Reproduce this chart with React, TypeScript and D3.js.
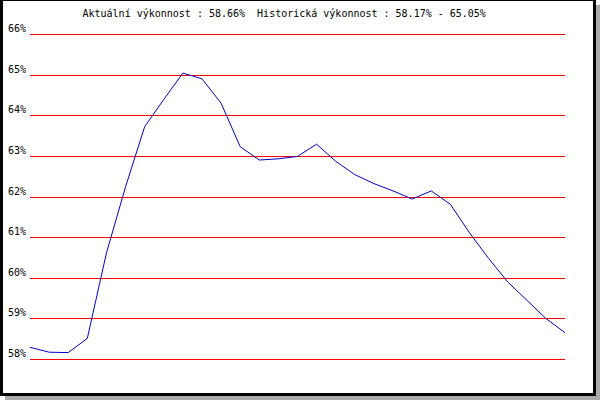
import React, { useEffect, useRef } from 'react'
import * as d3 from 'd3'

// hodnoty vykonnosti (%) - cteno z grafu
const hodnoty = [
    58.30, 58.18, 58.17, 58.52, 60.62, 62.25, 63.73, 64.40, 65.05, 64.91,
    64.31, 63.24, 62.91, 62.94, 63.00, 63.30, 62.88, 62.55, 62.33, 62.15,
    61.95, 62.15, 61.82, 61.12, 60.49, 59.91, 59.46, 59.01, 58.66
]
const osaY = [58, 59, 60, 61, 62, 63, 64, 65, 66]
const titulek = 'Aktuální výkonnost : 58.66%  Historická výkonnost : 58.17% - 65.05%'

function App() {
    const svgRef = useRef<SVGSVGElement>(null)

    useEffect(() => {
        const width = 600
        const height = 400
        const left = 30
        const right = 565
        const top = 34.5
        const bottom = 359.5

        const svg = d3.select(svgRef.current)
        svg.selectAll('*').remove()
        svg.attr('width', width).attr('height', height)

        // ramecek se stinem
        svg.append('rect').attr('x', 5).attr('y', 5).attr('width', 595).attr('height', 395).attr('fill', '#aaaaaa')
        svg.append('rect').attr('x', 0).attr('y', 0).attr('width', 596).attr('height', 396).attr('fill', '#000')
        svg.append('rect').attr('x', 3).attr('y', 1).attr('width', 590).attr('height', 392).attr('fill', '#fff')

        const xScale = d3.scaleLinear()
            .domain([0, hodnoty.length - 1])
            .range([left, right])

        const yScale = d3.scaleLinear()
            .domain([58, 66])
            .range([bottom, top])

        const font = '"DejaVu Sans Mono", monospace'

        svg.append('text')
            .attr('x', 82.5)
            .attr('y', 17)
            .attr('font-family', font)
            .attr('font-size', 10)
            .attr('fill', '#000')
            .attr('xml:space', 'preserve')
            .style('white-space', 'pre')
            .text(titulek)

        const grid = svg.append('g')
        grid.selectAll('line')
            .data(osaY)
            .join('line')
            .attr('x1', left)
            .attr('x2', right)
            .attr('y1', (d) => yScale(d))
            .attr('y2', (d) => yScale(d))
            .attr('stroke', '#ff0000')
            .attr('stroke-width', 1)
            .attr('shape-rendering', 'crispEdges')

        grid.selectAll('text')
            .data(osaY)
            .join('text')
            .attr('x', 8)
            .attr('y', (d) => yScale(d) - 2.5)
            .attr('font-family', font)
            .attr('font-size', 10)
            .attr('fill', '#000')
            .text((d) => d + '%')

        const line = d3.line<number>()
            .x((d, i) => xScale(i))
            .y((d) => yScale(d))

        svg.append('path')
            .attr('d', line(hodnoty))
            .attr('fill', 'none')
            .attr('stroke', '#0000cc')
            .attr('stroke-width', 1)
    }, [])

    return (
        <div style={{ position: 'absolute', left: 0, top: 0 }}>
            <svg ref={svgRef} style={{ display: 'block' }}></svg>
        </div>
    )
}

export default App
